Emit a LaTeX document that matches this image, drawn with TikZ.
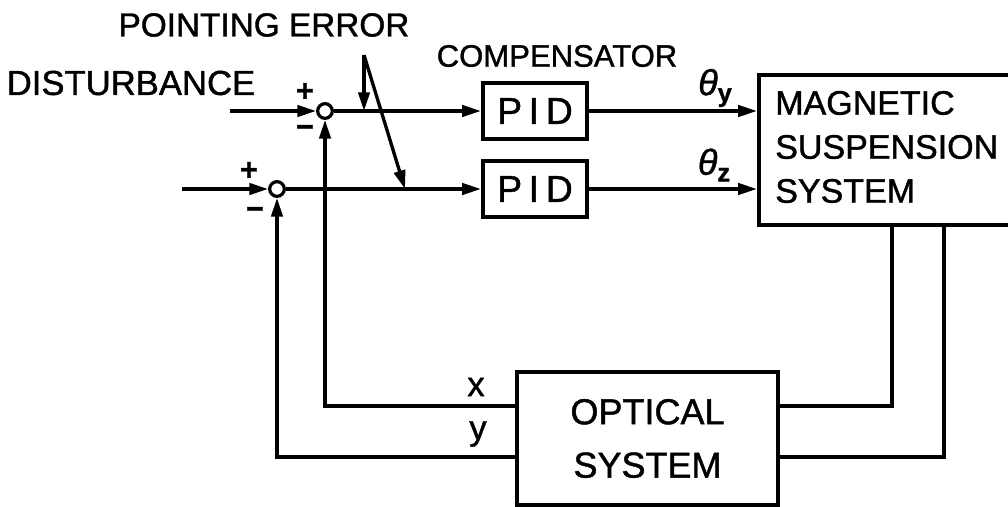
\documentclass[tikz,border=0pt]{standalone}
\usepackage{fontspec}
\setmainfont{Liberation Sans}[FakeBold=1.2]
\usetikzlibrary{arrows.meta}
\begin{document}
\begin{tikzpicture}[x=0.75pt,y=-0.75pt,
  ln/.style={line width=2.5pt},
  arr/.style={line width=2.5pt,-{Triangle[length=14pt,width=8.5pt]}},
  blk/.style={draw,line width=3.2pt,rectangle,inner sep=0pt},
  sumj/.style={draw,circle,line width=2.4pt,fill=white,minimum size=11pt,inner sep=0pt},
  lbl/.style={inner sep=0pt,font=\fontsize{25}{30}\selectfont},
  sgn/.style={inner sep=0pt,font=\bfseries\fontsize{23}{26}\selectfont}]
\clip (0,0) rectangle (1008,507);
\fill[white] (0,0) rectangle (1008,507);
% rows
\coordinate (xrow) at (0,406);
\coordinate (yrow) at (0,457);
\coordinate (fx) at (892,0);
\coordinate (fy) at (944,0);
% blocks
\node[blk,minimum width=78pt,minimum height=42pt,font=\fontsize{28}{32}\selectfont] (pid1) at (535,111) {P\kern5pt I\kern5pt D};
\node[blk,minimum width=78pt,minimum height=42pt,font=\fontsize{28}{32}\selectfont] (pid2) at (535,189) {P\kern5pt I\kern5pt D};
\node[blk,minimum width=192pt,minimum height=112.5pt] (mag) at (887,150) {};
\node[anchor=west,align=left,inner sep=0pt,font=\fontsize{25.5}{33}\selectfont] (magtxt) at (775,147) {MAGNETIC\\SUSPENSION\\SYSTEM};
\node[blk,minimum width=195.75pt,minimum height=99.75pt,align=center,font=\fontsize{27}{40}\selectfont] (opt) at (647.5,438.5) {OPTICAL\\SYSTEM};
% summing junctions
\node[sumj] (s1) at (325,111) {};
\node[sumj] (s2) at (277,189) {};
% inputs
\coordinate (in1) at (230,111);
\coordinate (in2) at (182,189);
\draw[arr] (in1) -- (s1);
\draw[arr] (in2) -- (s2);
% forward
\draw[arr] (s1) -- (pid1);
\draw[arr] (s2) -- (pid2);
\draw[arr] (pid1) -- (pid1 -| mag.west);
\draw[arr] (pid2) -- (pid2 -| mag.west);
% feedback
\draw[ln] (mag.south -| fx) |- (opt.east |- xrow);
\draw[ln] (mag.south -| fy) |- (opt.east |- yrow);
\draw[arr] (opt.west |- xrow) -| (s1.south);
\draw[arr] (opt.west |- yrow) -| (s2.south);
% pointing error arrows
\coordinate (pe) at (364,55);
\coordinate (pe1) at (364,111);
\coordinate (pe2) at (405,189);
\draw[arr] (pe) -- (pe1);
\draw[arr] (pe) -- (pe2);
% labels
\node[lbl] (pelbl) at (264,25) {POINTING ERROR};
\node[lbl,font=\fontsize{26}{30}\selectfont] (dist) at (131,83) {DISTURBANCE};
\node[lbl,font=\fontsize{23.3}{28}\selectfont] (comp) at (557,56) {COMPENSATOR};
\node[lbl,font=\fontsize{27}{30}\selectfont] (thy) at (715,88) {\textit{θ}\raisebox{-5pt}{\fontsize{19}{20}\selectfont\bfseries y}};
\node[lbl,font=\fontsize{27}{30}\selectfont] (thz) at (714,165) {\textit{θ}\raisebox{-5pt}{\fontsize{19}{20}\selectfont\bfseries z}};
\node[lbl,font=\fontsize{26}{30}\selectfont] (xl) at (476,387) {x};
\node[lbl,font=\fontsize{26}{30}\selectfont] (yl) at (478,434) {y};
\node[sgn] (p1) at (305,92) {+};
\node[sgn] (m1) at (305,131) {−};
\node[sgn] (p2) at (249,171) {+};
\node[sgn] (m2) at (255,213) {−};
\end{tikzpicture}
\end{document}
